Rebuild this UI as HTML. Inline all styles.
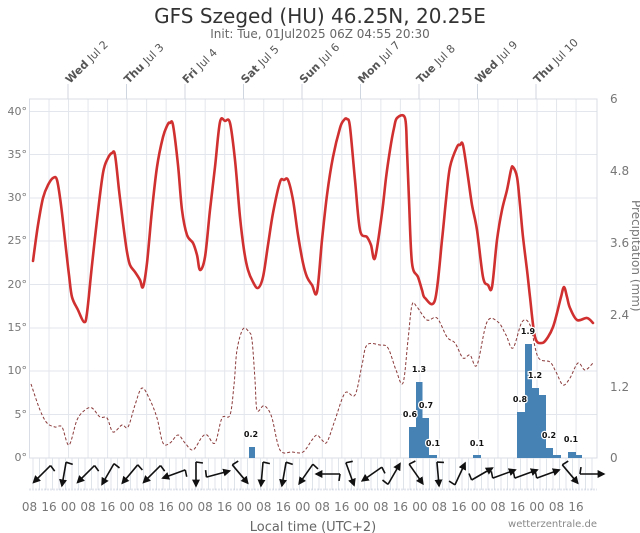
<!DOCTYPE html>
<html><head><meta charset="utf-8"><style>
html,body{margin:0;padding:0;background:#fff;}
svg{display:block;font-family:"DejaVu Sans","Liberation Sans",sans-serif;}
</style></head><body>
<svg width="640" height="533" viewBox="0 0 640 533" xmlns="http://www.w3.org/2000/svg">
<defs>
<marker id="ah" viewBox="0 0 10 10" refX="8" refY="5" markerWidth="5" markerHeight="5" orient="auto"><path d="M0,0 L10,5 L0,10 z" fill="#111"/></marker>
</defs>
<text x="320" y="23" text-anchor="middle" font-size="20" fill="#333">GFS Szeged (HU) 46.25N, 20.25E</text>
<text x="320" y="38" text-anchor="middle" font-size="12" fill="#666">Init: Tue, 01Jul2025 06Z 04:55 20:30</text>

<g id="grid" stroke="#e3e6ec" stroke-width="1">
<line x1="29.5" y1="111.5" x2="597" y2="111.5"/><line x1="29.5" y1="154.5" x2="597" y2="154.5"/>
<line x1="29.5" y1="198" x2="597" y2="198"/><line x1="29.5" y1="241" x2="597" y2="241"/>
<line x1="29.5" y1="284.5" x2="597" y2="284.5"/><line x1="29.5" y1="328" x2="597" y2="328"/>
<line x1="29.5" y1="371" x2="597" y2="371"/><line x1="29.5" y1="414.5" x2="597" y2="414.5"/>
</g>
<g stroke="#e3e6ec" stroke-width="1" id="vg"></g>
<rect x="29.5" y="99" width="567.5" height="359" fill="none" stroke="#d8dde6"/>
<g stroke="#d0d6e0" stroke-width="1" id="daylines"></g>
<g font-size="11" fill="#555" id="days"></g>

<g font-size="11" fill="#777" text-anchor="end">
<text x="27" y="115">40°</text><text x="27" y="158">35°</text><text x="27" y="201">30°</text>
<text x="27" y="244">25°</text><text x="27" y="288">20°</text><text x="27" y="331">15°</text>
<text x="27" y="374">10°</text><text x="27" y="418">5°</text><text x="27" y="461">0°</text>
</g>
<g font-size="12" fill="#777">
<text x="610" y="103">6</text><text x="610" y="175">4.8</text><text x="610" y="247">3.6</text>
<text x="610" y="319">2.4</text><text x="610" y="391">1.2</text><text x="610" y="462">0</text>
</g>
<text transform="translate(632,200) rotate(90)" font-size="12" fill="#777">Precipitation (mm)</text>

<g fill="#4682b4">
<rect x="249" y="447" width="6" height="11"/>
<rect x="409" y="427" width="7" height="31"/><rect x="416" y="382" width="6.5" height="76"/>
<rect x="422.5" y="418" width="6.5" height="40"/><rect x="429" y="455" width="8" height="3"/>
<rect x="473" y="455" width="8" height="3"/>
<rect x="517" y="412" width="8" height="46"/><rect x="525" y="344" width="7" height="114"/>
<rect x="532" y="388" width="7" height="70"/><rect x="539" y="395" width="7" height="63"/>
<rect x="546" y="448" width="7" height="10"/><rect x="553" y="455" width="8" height="3"/>
<rect x="568" y="452" width="8" height="6"/><rect x="576" y="455" width="6" height="3"/>
</g>

<path id="dash" fill="none" stroke="#8b3a3a" stroke-width="1" stroke-dasharray="3,2"/>
<path id="temp" fill="none" stroke="#d03030" stroke-width="2.6" stroke-linejoin="round" stroke-linecap="round"/>

<g font-size="8" font-weight="bold" fill="#111" text-anchor="middle" stroke="#fff" stroke-width="2.5" paint-order="stroke">
<text x="251" y="437">0.2</text>
<text x="410" y="417">0.6</text><text x="419" y="372">1.3</text><text x="426" y="408">0.7</text>
<text x="433" y="446">0.1</text><text x="477" y="446">0.1</text>
<text x="520" y="402">0.8</text><text x="528" y="334">1.9</text><text x="535" y="378">1.2</text>
<text x="549" y="438">0.2</text><text x="571" y="442">0.1</text>
</g>

<g stroke="#dfe3ea" stroke-width="1" id="bg"></g>
<line x1="29.5" y1="489.5" x2="597" y2="489.5" stroke="#c8d0dc" stroke-width="2" stroke-dasharray="1,2"/>
<g id="arrows" stroke="#111" stroke-width="1.6" fill="none"></g>

<g font-size="12" fill="#777" text-anchor="middle" id="tl"></g>
<text x="313" y="531" text-anchor="middle" font-size="13" fill="#666">Local time (UTC+2)</text>
<text x="597" y="527" text-anchor="end" font-size="10" fill="#888">wetterzentrale.de</text>
</svg>
<script>
var NS="http://www.w3.org/2000/svg";
function el(p,t,a,txt){var e=document.createElementNS(NS,t);for(var k in a)e.setAttribute(k,a[k]);if(txt!=null)e.textContent=txt;document.getElementById(p).appendChild(e);return e;}
function smooth(str){var a=str.trim().split(/\s+/).map(function(s){return s.split(",").map(Number);});
var d="M"+a[0][0]+","+a[0][1];
for(var i=0;i<a.length-1;i++){var p0=a[i-1]||a[i],p1=a[i],p2=a[i+1],p3=a[i+2]||p2;
var c1x=p1[0]+(p2[0]-p0[0])/6,c1y=p1[1]+(p2[1]-p0[1])/6,c2x=p2[0]-(p3[0]-p1[0])/6,c2y=p2[1]-(p3[1]-p1[1])/6;
d+=" C"+c1x.toFixed(1)+","+c1y.toFixed(1)+" "+c2x.toFixed(1)+","+c2y.toFixed(1)+" "+p2[0]+","+p2[1];}
return d;}
document.getElementById("temp").setAttribute("d",smooth("33,261 38,225 43,198 48,185 53,178 57,180 61,205 65,240 69,275 72,297 78,310 84,322 87,313 92,265 97,220 103,173 108,158 112,153 115,155 119,190 123,223 127,252 130,265 135,272 140,280 143,287 147,263 152,210 157,167 163,137 168,124 170,123 173,125 178,165 182,210 187,235 193,243 197,255 200,270 205,257 210,210 215,167 220,122 225,121 230,123 235,160 240,217 244,250 248,270 253,282 258,288 263,277 268,245 273,213 280,182 284,180 288,180 293,200 298,235 303,263 307,277 312,285 317,292 322,240 327,195 333,157 340,128 344,120 347,119 350,127 355,180 360,230 367,237 371,245 375,258 382,213 386,178 390,150 394,128 397,118 405,118 407,150 409,200 412,263 418,277 422,290 425,298 435,300 442,240 446,200 450,167 457,147 460,145 463,145 468,177 472,205 477,230 483,277 488,285 492,287 497,240 502,210 507,190 511,170 513,167 517,177 520,205 523,237 527,270 530,297 535,337 542,343 548,337 553,327 557,313 561,297 564,287 567,297 570,308 577,320 587,318 593,323"));
document.getElementById("dash").setAttribute("d",smooth("31,384 40,410 47,423 55,427 62,427 69,445 77,420 85,410 92,408 100,417 107,418 113,432 122,425 128,427 135,405 142,388 150,400 157,418 163,443 170,443 178,435 185,443 193,450 202,437 207,435 215,443 222,418 230,415 234,385 237,350 243,329 249,332 252,340 255,380 257,410 263,406 267,408 272,418 280,450 292,452 303,452 312,440 317,435 322,440 327,442 335,420 345,393 355,395 362,365 367,345 380,345 388,348 396,370 403,383 408,340 412,305 417,307 427,320 437,318 447,337 455,343 463,358 470,355 477,365 487,322 498,322 506,335 513,348 522,322 530,325 538,357 550,362 556,372 563,385 570,378 578,363 585,370 593,363"));
var x0=29.5,s=19.52;
var lab=["08","16","00"];
for(var i=0;i<29;i++){var x=x0+i*s;el("tl","text",{x:x,y:511},lab[i%3]);if(i>0)el("vg","line",{x1:x,y1:99,x2:x,y2:458});}
var days=[["Wed","Jul 2"],["Thu","Jul 3"],["Fri","Jul 4"],["Sat","Jul 5"],["Sun","Jul 6"],["Mon","Jul 7"],["Tue","Jul 8"],["Wed","Jul 9"],["Thu","Jul 10"]];
for(var d=0;d<9;d++){var x=68+58.5*d;el("daylines","line",{x1:x,y1:84,x2:x,y2:99});
var t=el("days","text",{transform:"translate("+(x+2)+",84) rotate(-45)"});
var b=document.createElementNS(NS,"tspan");b.setAttribute("font-weight","bold");b.textContent=days[d][0]+" ";t.appendChild(b);
var n=document.createElementNS(NS,"tspan");n.textContent=days[d][1];t.appendChild(n);}
for(var x=33;x<597;x+=6.5)el("bg","line",{x1:x,y1:458,x2:x,y2:490});
var ang=[135,100,135,120,130,135,160,90,-15,50,95,100,125,180,70,145,-60,55,85,-65,-30,-20,-20,-20,50,0,0,0];
for(var i=0;i<26;i++){var cx=42+i*22,cy=474,a=ang[i]*Math.PI/180,L=12;
var x1=cx-L*Math.cos(a),y1=cy-L*Math.sin(a),x2=cx+L*Math.cos(a),y2=cy+L*Math.sin(a);
el("arrows","line",{x1:x1,y1:y1,x2:x2,y2:y2,"marker-end":"url(#ah)"});
var pa=a-Math.PI/2.2;el("arrows","line",{x1:x1,y1:y1,x2:x1+7*Math.cos(pa),y2:y1+7*Math.sin(pa)});}
</script>
</body></html>
